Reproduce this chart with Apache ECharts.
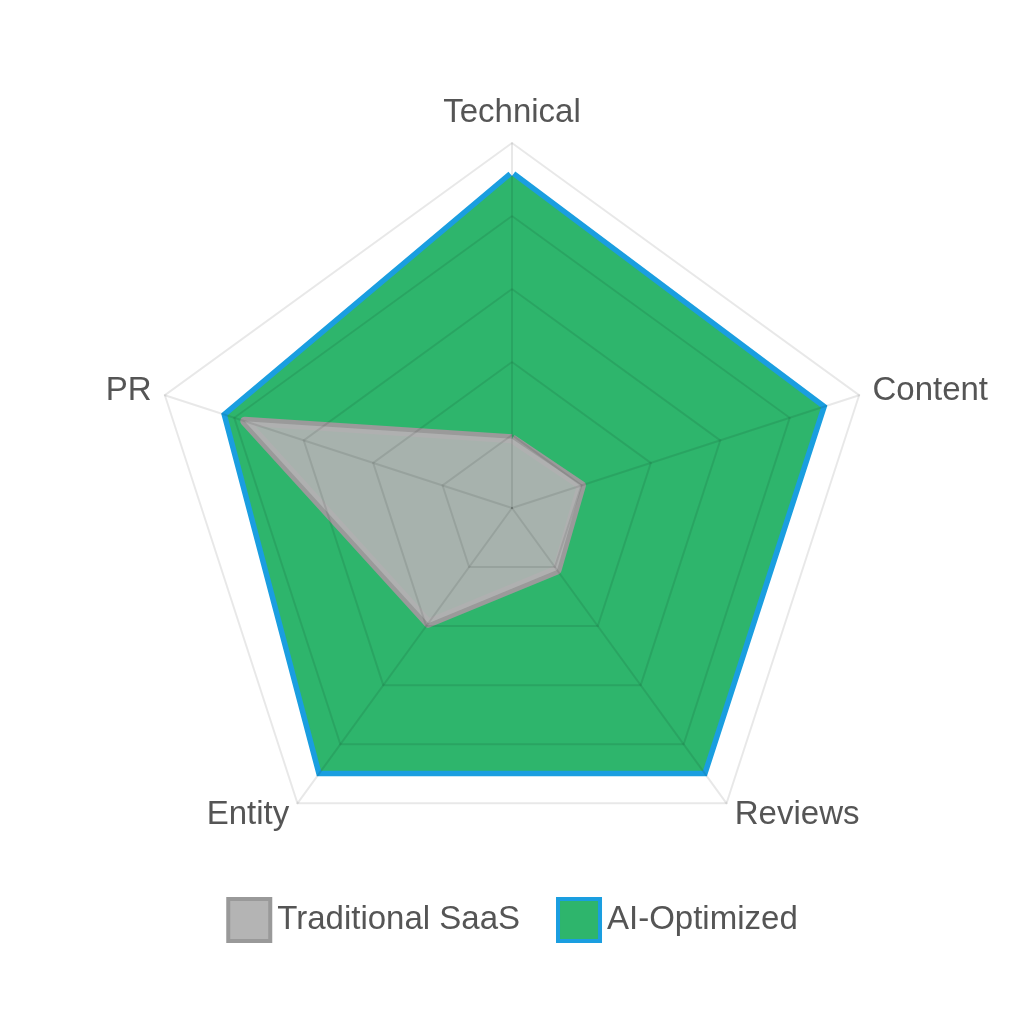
<!DOCTYPE html>
<html>
<head>
<meta charset="utf-8">
<script src="https://cdn.jsdelivr.net/npm/echarts@6/dist/echarts.min.js"></script>
<style>html,body{margin:0;padding:0;background:#fff}#c{width:1024px;height:1024px}</style>
</head>
<body>
<div id="c"></div>
<script>
// Clockwise from top, as in the reference
const indicators = ['Technical', 'Content', 'Reviews', 'Entity', 'PR'];
const maxValue = 100;
const traditionalSaaS = [19, 20, 21, 39, 77];
const aiOptimized = [91, 89, 89, 89, 82];
const seriesNames = ['Traditional SaaS', 'AI-Optimized'];

// ECharts radar places indicators counter-clockwise; reorder to get clockwise layout
const order = [0, 4, 3, 2, 1];
const ind = order.map(i => ({ name: indicators[i], min: 0, max: maxValue }));
const re = arr => order.map(i => arr[i]);

const FONT = 'Liberation Sans, Arial, sans-serif';
const chart = echarts.init(document.getElementById('c'));
chart.setOption({
  backgroundColor: '#ffffff',
  animation: false,
  legend: {
    top: 892,
    left: 'center',
    itemWidth: 42,
    itemHeight: 42,
    itemGap: 36,
    icon: 'rect',
    textStyle: { fontSize: 33, color: '#555555', fontFamily: FONT, padding: [0, 0, 0, 2] },
    data: [
      { name: seriesNames[0], itemStyle: { color: '#b4b4b4', borderColor: '#999999', borderWidth: 4 } },
      { name: seriesNames[1], itemStyle: { color: '#2eb56c', borderColor: '#1a9ee0', borderWidth: 4 } }
    ]
  },
  radar: {
    center: [512, 508],
    radius: 365,
    startAngle: 90,
    splitNumber: 5,
    shape: 'polygon',
    nameGap: 14,
    z: 5,
    axisName: { color: '#555555', fontSize: 33, fontFamily: FONT },
    indicator: ind,
    splitLine: { lineStyle: { color: 'rgba(0,0,0,0.09)', width: 2 } },
    splitArea: { show: false },
    axisLine: { lineStyle: { color: 'rgba(0,0,0,0.09)', width: 2 } }
  },
  series: [
    {
      name: seriesNames[1],
      type: 'radar',
      symbol: 'none',
      z: 2,
      lineStyle: { color: '#1a9ee0', width: 11, join: 'miter' },
      itemStyle: { color: '#2eb56c' },
      areaStyle: { color: '#2eb56c', opacity: 1 },
      data: [{ name: seriesNames[1], value: re(aiOptimized) }]
    },
    {
      name: seriesNames[0],
      type: 'radar',
      symbol: 'none',
      z: 3,
      lineStyle: { color: '#9a9a9a', width: 9, join: 'round' },
      itemStyle: { color: '#b4b4b4' },
      areaStyle: { color: '#b0b2b1', opacity: 0.93 },
      data: [{ name: seriesNames[0], value: re(traditionalSaaS) }]
    }
  ]
});
</script>
</body>
</html>
